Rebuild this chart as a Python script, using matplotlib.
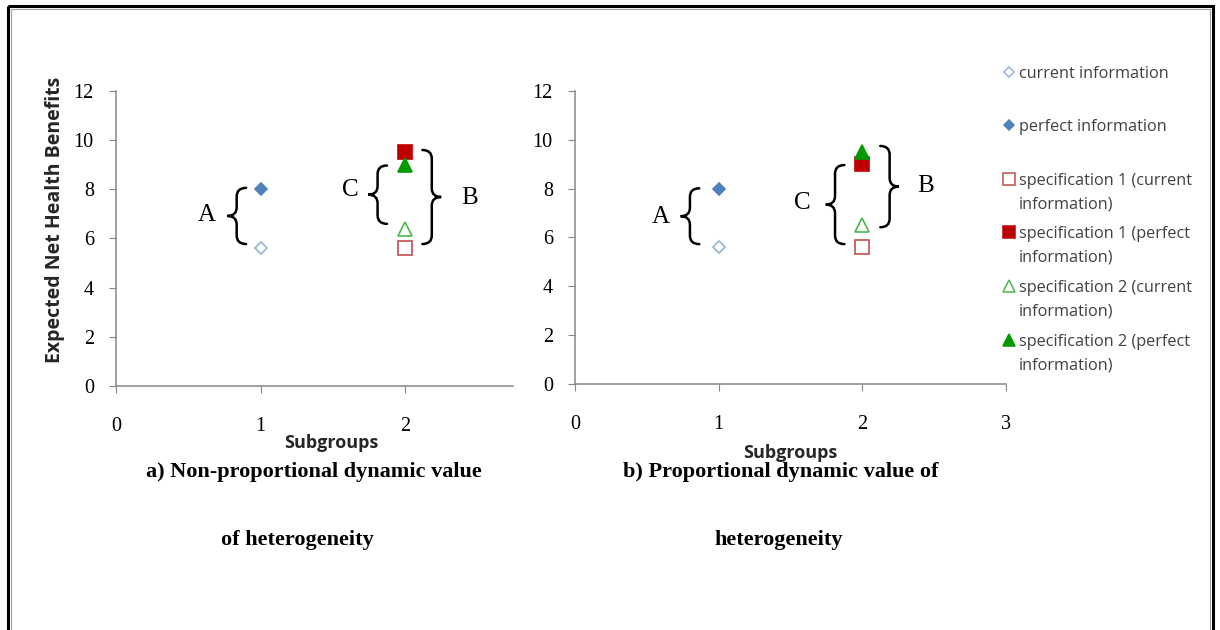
import matplotlib
matplotlib.use('Agg')

import matplotlib.pyplot as plt
from matplotlib.path import Path
from matplotlib.patches import PathPatch, Rectangle


# series shown in both panels
series_labels = [
    "current information",
    "perfect information",
    "specification 1 (current\ninformation)",
    "specification 1 (perfect\ninformation)",
    "specification 2 (current\ninformation)",
    "specification 2 (perfect\ninformation)",
]
series_subgroup = [1, 1, 2, 2, 2, 2]

# expected net health benefits per series
nonprop_values = [5.6, 8.0, 5.6, 9.5, 6.4, 9.0]
prop_values = [5.6, 8.0, 5.6, 9.0, 6.5, 9.5]

y_ticks = [0, 2, 4, 6, 8, 10, 12]

# marker, size, face colour, edge colour
styles = [
    ("D", 6.2, "white", "#95b3d7"),
    ("D", 6.2, "#4f81bd", "#4f81bd"),
    ("s", 10, "white", "#c0504d"),
    ("s", 10, "#c00000", "#c00000"),
    ("^", 10, "white", "#4cb84c"),
    ("^", 10, "#009a00", "#009a00"),
]

SERIF = "Liberation Serif"
SANS = "Open Sans"
GREY = "#868686"


def brace(ax, x, y0, y1, side, hook=0.065, r=0.35):
    # curly brace along y0..y1, tip pointing left (side=-1) or right (side=1)
    ym = (y0 + y1) / 2
    verts = [
        (x - side * hook, y1),
        (x, y1), (x, y1 - r),
        (x, ym + r),
        (x, ym), (x + side * hook, ym),
        (x, ym), (x, ym - r),
        (x, y0 + r),
        (x, y0), (x - side * hook, y0),
    ]
    codes = [Path.MOVETO,
             Path.CURVE3, Path.CURVE3,
             Path.LINETO,
             Path.CURVE3, Path.CURVE3,
             Path.CURVE3, Path.CURVE3,
             Path.LINETO,
             Path.CURVE3, Path.CURVE3]
    ax.add_patch(PathPatch(Path(verts, codes), fill=False, lw=1.8,
                           color="black", capstyle="round", zorder=1))


def setup_axes(ax, xmax, xticks):
    ax.set_xlim(0, xmax)
    ax.set_ylim(0, 12)
    ax.set_xticks(xticks)
    ax.set_yticks(y_ticks)
    for side in ("top", "right"):
        ax.spines[side].set_visible(False)
    for side in ("left", "bottom"):
        ax.spines[side].set_color(GREY)
        ax.spines[side].set_linewidth(1.1)
    ax.tick_params(axis="y", direction="out", length=5, color=GREY, pad=11)
    ax.tick_params(axis="x", direction="out", length=5, color=GREY, pad=17)
    for lab in ax.get_xticklabels() + ax.get_yticklabels():
        lab.set_fontfamily(SERIF)
        lab.set_fontsize(14.5)
    ax.patch.set_alpha(0)


def draw_points(ax, values):
    for x, y, (m, ms, fc, ec) in zip(series_subgroup, values, styles):
        ax.plot([x], [y], linestyle="none", marker=m, markersize=ms,
                markerfacecolor=fc, markeredgecolor=ec, markeredgewidth=1.2,
                zorder=3)


fig = plt.figure(figsize=(12.2, 6.3), dpi=100)

# page frame
frame = fig.add_axes([0, 0, 1, 1])
frame.set_xlim(0, 1220)
frame.set_ylim(630, 0)
frame.axis("off")
frame.add_patch(Rectangle((8, 6), 1205, 640, fill=False, lw=2.2,
                          edgecolor="black"))
frame.add_patch(Rectangle((11, 9), 1199, 640, fill=False, lw=0.8,
                          edgecolor="#a0a0a0"))

# a) non-proportional panel
ax1 = fig.add_axes([116 / 1220, 1 - 386 / 630, 397 / 1220, 295.3 / 630])
setup_axes(ax1, 2.747, [0, 1, 2])
draw_points(ax1, nonprop_values)
brace(ax1, 0.835, 5.77, 8.05, -1)
brace(ax1, 1.81, 6.59, 8.96, -1)
brace(ax1, 2.185, 5.77, 9.59, 1)
for s, x, y in [("A", 0.63, 6.95), ("C", 1.62, 7.95), ("B", 2.45, 7.65)]:
    ax1.text(x, y, s, family=SERIF, fontsize=18, ha="center", va="center")

# b) proportional panel
ax2 = fig.add_axes([575 / 1220, 1 - 384.3 / 630, 431 / 1220, 293.6 / 630])
setup_axes(ax2, 3, [0, 1, 2, 3])
draw_points(ax2, prop_values)
brace(ax2, 0.80, 5.73, 8.01, -1)
brace(ax2, 1.81, 5.73, 8.96, -1)
brace(ax2, 2.19, 6.42, 9.74, 1)
for s, x, y in [("A", 0.60, 6.85), ("C", 1.58, 7.40), ("B", 2.44, 8.10)]:
    ax2.text(x, y, s, family=SERIF, fontsize=18, ha="center", va="center")

# axis titles
frame.text(55, 220, "Expected Net Health Benefits", family=SANS,
           fontweight="bold", fontsize=14, rotation=90, ha="center",
           va="center", color="#262626")
frame.text(331, 443, "Subgroups", family=SANS, fontweight="bold",
           fontsize=13, ha="center", va="center", color="#262626")
frame.text(790, 453, "Subgroups", family=SANS, fontweight="bold",
           fontsize=13, ha="center", va="center", color="#262626")

# panel captions
cap = dict(family=SERIF, fontweight="bold", fontsize=16, ha="center",
           va="center")
frame.text(314, 472, "a) Non-proportional dynamic value", **cap)
frame.text(297, 540, "of heterogeneity", **cap)
frame.text(781, 472, "b) Proportional dynamic value of", **cap)
frame.text(779, 540, "heterogeneity", **cap)

# legend
for i, (label, (m, ms, fc, ec)) in enumerate(zip(series_labels, styles)):
    y = 71.5 + i * 53.6
    lms = ms * 0.85
    frame.plot([1009], [y], linestyle="none", marker=m, markersize=lms,
               markerfacecolor=fc, markeredgecolor=ec, markeredgewidth=1.1)
    frame.text(1019, y - 6, label, family=SANS, fontsize=11.7,
               color="#404040", ha="left", va="top", linespacing=1.63)

fig.savefig("out.png", dpi=100)
